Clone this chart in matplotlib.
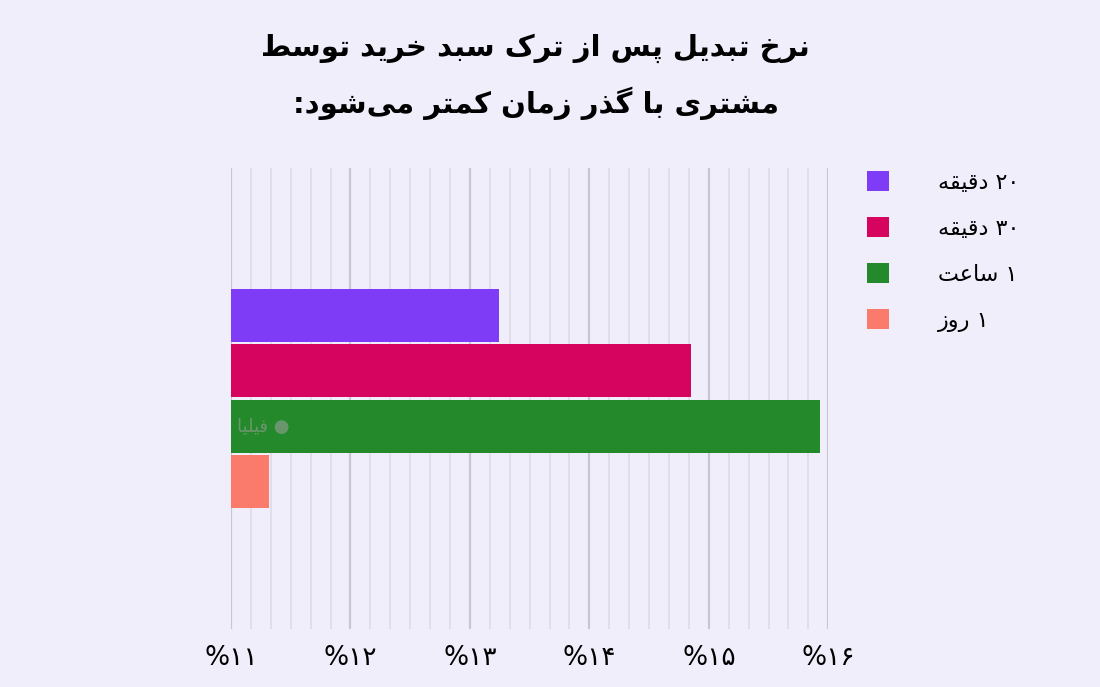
import matplotlib
matplotlib.use("Agg")
import matplotlib.pyplot as plt
from matplotlib.patches import Patch
import numpy as np

# ---------- data ----------
categories = ["۲۰ دقیقه", "۳۰ دقیقه", "۱ ساعت", "۱ روز"]
values = [13.24, 14.85, 15.93, 11.32]
colors = ["#7f3cf7", "#d6045f", "#23892a", "#fa7a6c"]
tick_values = [11, 12, 13, 14, 15, 16]
tick_labels = ["%۱۱", "%۱۲", "%۱۳", "%۱۴", "%۱۵", "%۱۶"]
title_lines = ["نرخ تبدیل پس از ترک سبد خرید توسط", "مشتری با گذر زمان کمتر می‌شود:"]

# ---------- minimal Persian shaping ----------
FORMS = {  # isolated, final, initial, medial
    'ا': (0xFE8D, 0xFE8E, None, None), 'ب': (0xFE8F, 0xFE90, 0xFE91, 0xFE92),
    'پ': (0xFB56, 0xFB57, 0xFB58, 0xFB59), 'ت': (0xFE95, 0xFE96, 0xFE97, 0xFE98),
    'خ': (0xFEA5, 0xFEA6, 0xFEA7, 0xFEA8), 'د': (0xFEA9, 0xFEAA, None, None),
    'ذ': (0xFEAB, 0xFEAC, None, None), 'ر': (0xFEAD, 0xFEAE, None, None),
    'ز': (0xFEAF, 0xFEB0, None, None), 'س': (0xFEB1, 0xFEB2, 0xFEB3, 0xFEB4),
    'ش': (0xFEB5, 0xFEB6, 0xFEB7, 0xFEB8), 'ط': (0xFEC1, 0xFEC2, 0xFEC3, 0xFEC4),
    'ع': (0xFEC9, 0xFECA, 0xFECB, 0xFECC), 'ق': (0xFED5, 0xFED6, 0xFED7, 0xFED8),
    'ک': (0xFB8E, 0xFB8F, 0xFB90, 0xFB91), 'گ': (0xFB92, 0xFB93, 0xFB94, 0xFB95),
    'ل': (0xFEDD, 0xFEDE, 0xFEDF, 0xFEE0), 'م': (0xFEE1, 0xFEE2, 0xFEE3, 0xFEE4),
    'ن': (0xFEE5, 0xFEE6, 0xFEE7, 0xFEE8), 'ه': (0xFEE9, 0xFEEA, 0xFEEB, 0xFEEC),
    'و': (0xFEED, 0xFEEE, None, None), 'ی': (0xFBFC, 0xFBFD, 0xFBFE, 0xFBFF),
    'ف': (0xFED1, 0xFED2, 0xFED3, 0xFED4),
}

def joins_next(c):
    return c in FORMS and FORMS[c][2] is not None

def shape(s):
    out = []
    for i, c in enumerate(s):
        if c not in FORMS:
            if c != '\u200c':
                out.append(c)
            continue
        prev = s[i - 1] if i > 0 else ''
        nxt = s[i + 1] if i + 1 < len(s) else ''
        jp = joins_next(prev)
        jn = joins_next(c) and nxt in FORMS
        iso, fin, ini, med = FORMS[c]
        if jp and jn:
            code = med
        elif jp:
            code = fin
        elif jn:
            code = ini
        else:
            code = iso
        out.append(chr(code))
    rev = out[::-1]
    res, i = [], 0
    while i < len(rev):
        if rev[i].isdigit():
            j = i
            while j < len(rev) and rev[j].isdigit():
                j += 1
            res.extend(rev[i:j][::-1])
            i = j
        else:
            res.append(rev[i])
            i += 1
    return ''.join(res)

plt.rcParams['font.family'] = ['DejaVu Sans']
BG = "#f0eefb"

fig = plt.figure(figsize=(11, 6.87), dpi=100, facecolor=BG)
ax = fig.add_axes([0.21, 0.085, 0.543, 0.67], facecolor=BG)

y = np.arange(len(values))
ax.barh(y, np.array(values) - 11, left=11, height=0.95, color=colors, zorder=3)
ax.set_ylim(5.65, -2.65)
ax.set_xlim(11, 16.0)
ax.set_xticks(tick_values)
ax.set_xticklabels(tick_labels, fontsize=19)
ax.set_xticks(np.arange(11, 16.01, 1 / 6), minor=True)
ax.grid(axis='x', which='major', color="#c9c6d4", linewidth=1.6, zorder=0)
ax.grid(axis='x', which='minor', color="#dedbe8", linewidth=1.2, zorder=0)
ax.tick_params(axis='x', which='both', length=0, pad=12)
ax.set_yticks([])
for sp in ax.spines.values():
    sp.set_visible(False)
ax.text(11.05, 2, shape("فیلیا") + " ●", fontsize=13, color="#9aa09a", alpha=0.6,
        va='center', ha='left', zorder=4)

handles = [Patch(facecolor=c) for c in colors]
fig.legend(handles, [shape(c) for c in categories], loc='upper left',
           bbox_to_anchor=(0.77, 0.78), frameon=False, fontsize=16,
           handlelength=1.0, handleheight=1.0, labelspacing=1.1, handletextpad=2.2)

for k, line in enumerate(title_lines):
    fig.text(0.487, 0.93 - k * 0.08, shape(line), ha='center', va='center',
             fontsize=21, fontweight='bold')

fig.savefig("out.png", dpi=100, facecolor=BG)
